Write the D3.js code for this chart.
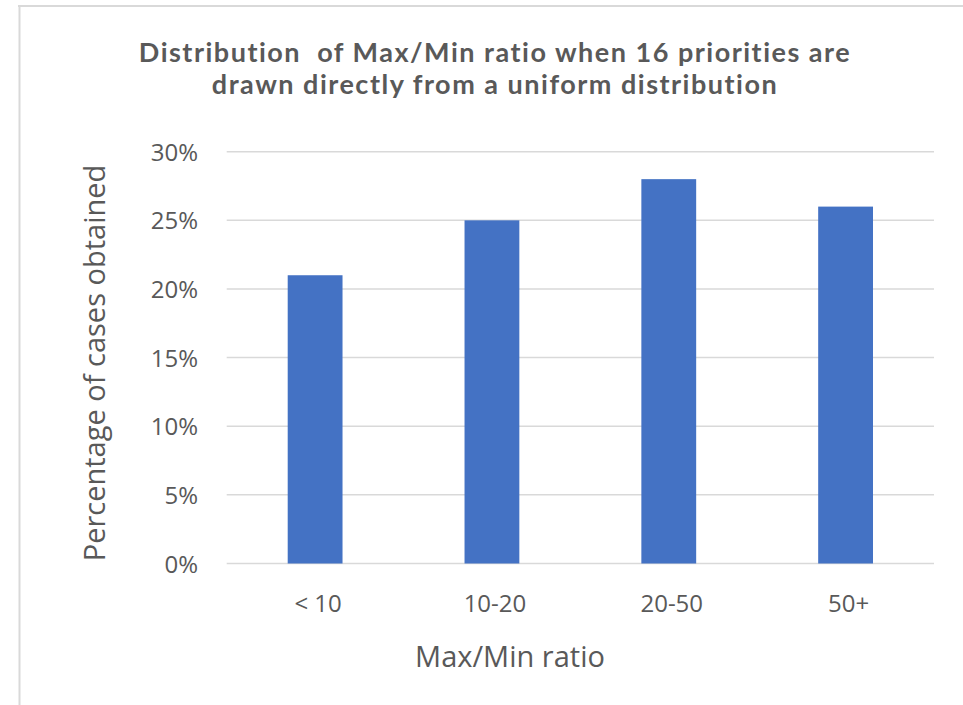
<!DOCTYPE html>
<html>
<head>
<meta charset="utf-8">
<script src="https://cdn.jsdelivr.net/npm/d3@7"></script>
<style>
  html, body { margin: 0; padding: 0; background: #ffffff; }
  svg { display: block; }
</style>
</head>
<body>
<svg id="chart" width="963" height="705"></svg>
<script>
// Share of cases per Max/Min ratio bucket
const categories = ["< 10", "10-20", "20-50", "50+"];
const shares = [0.21, 0.25, 0.28, 0.26];
const yTicks = [0, 0.05, 0.10, 0.15, 0.20, 0.25, 0.30];
const titleLines = [
  "Distribution  of Max/Min ratio when 16 priorities are",
  "drawn directly from a uniform distribution"
];
const xTitle = "Max/Min ratio";
const yTitle = "Percentage of cases obtained";

const svg = d3.select("#chart");
const W = 963, H = 705;
const plot = { left: 226.7, right: 934, top: 151.7, bottom: 563.5 };

const textColor = "#595959";
const gridColor = "#d9d9d9";
const barColor = "#4472c4";

// chart frame (top and left edges)
svg.append("line")
  .attr("x1", 18).attr("x2", W).attr("y1", 6).attr("y2", 6)
  .attr("stroke", "#d9d9d9").attr("stroke-width", 2);
svg.append("line")
  .attr("x1", 19.5).attr("x2", 19.5).attr("y1", 5).attr("y2", H)
  .attr("stroke", "#d9d9d9").attr("stroke-width", 2);

const x = d3.scaleBand()
  .domain(categories)
  .range([plot.left, plot.right])
  .paddingInner(0.69)
  .paddingOuter(0.345);

const y = d3.scaleLinear()
  .domain([0, 0.30])
  .range([plot.bottom, plot.top]);

// gridlines
svg.append("g")
  .selectAll("line")
  .data(yTicks)
  .join("line")
  .attr("x1", plot.left).attr("x2", plot.right)
  .attr("y1", d => y(d)).attr("y2", d => y(d))
  .attr("stroke", gridColor).attr("stroke-width", 1.5);

// bars
svg.append("g")
  .selectAll("rect")
  .data(categories)
  .join("rect")
  .attr("x", d => x(d))
  .attr("width", x.bandwidth())
  .attr("y", (d, i) => y(shares[i]))
  .attr("height", (d, i) => y(0) - y(shares[i]))
  .attr("fill", barColor);

// y axis labels
const yAxis = d3.axisLeft(y)
  .tickValues(yTicks)
  .tickFormat(d3.format(".0%"))
  .tickSize(0)
  .tickPadding(0);
const gy = svg.append("g")
  .attr("transform", `translate(198,0)`)
  .call(yAxis);
gy.select(".domain").remove();
gy.selectAll("text")
  .attr("font-family", "'Open Sans', sans-serif")
  .attr("font-size", 24)
  .attr("fill", textColor)
  .attr("dy", "0.36em");

// x axis labels
const xAxis = d3.axisBottom(x).tickSize(0).tickPadding(0);
const gx = svg.append("g")
  .attr("transform", `translate(0,${plot.bottom})`)
  .call(xAxis);
gx.select(".domain").remove();
gx.selectAll("text")
  .attr("font-family", "'Open Sans', sans-serif")
  .attr("font-size", 24)
  .attr("fill", textColor)
  .attr("y", 48)
  .attr("dy", 0)
  .attr("dx", 3);

// title
svg.append("text")
  .attr("text-anchor", "middle")
  .attr("font-family", "Lato, sans-serif")
  .attr("font-weight", "bold")
  .attr("font-size", 27)
  .attr("letter-spacing", 1.5)
  .style("white-space", "pre")
  .style("font-variant-ligatures", "none")
  .attr("fill", textColor)
  .selectAll("tspan")
  .data(titleLines)
  .join("tspan")
  .attr("x", 495)
  .attr("y", (d, i) => 62 + i * 32)
  .text(d => d);

// axis titles
svg.append("text")
  .attr("x", 510).attr("y", 667)
  .attr("text-anchor", "middle")
  .attr("font-family", "'Open Sans', sans-serif")
  .attr("font-size", 29)
  .attr("fill", textColor)
  .text(xTitle);

svg.append("text")
  .attr("transform", "translate(105,363) rotate(-90)")
  .attr("text-anchor", "middle")
  .attr("font-family", "'Open Sans', sans-serif")
  .attr("font-size", 29)
  .attr("fill", textColor)
  .text(yTitle);
</script>
</body>
</html>
